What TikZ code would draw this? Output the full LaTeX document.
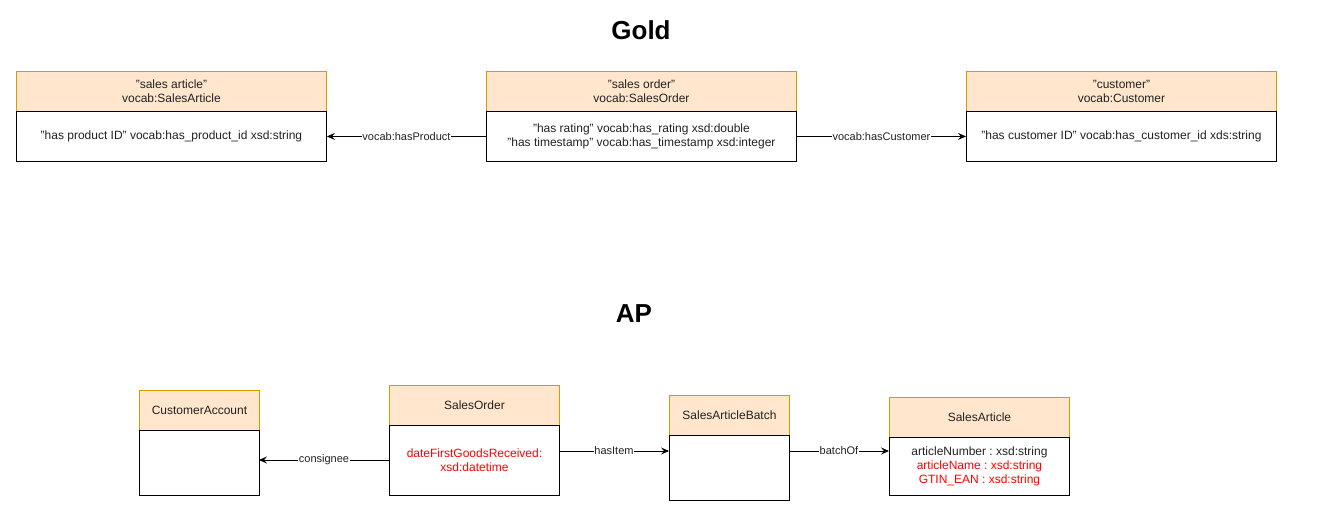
\documentclass[tikz,border=0pt]{standalone}
\usepackage{fontspec}
\setmainfont[Ligatures=NoCommon]{Liberation Sans}
\usetikzlibrary{arrows.meta}
\definecolor{hdrfill}{HTML}{FFE6CC}
\definecolor{hdrdraw}{HTML}{D79B00}
\definecolor{attrred}{HTML}{FF0000}
\definecolor{txt}{HTML}{222222}
\newcommand{\dq}{\char34\relax}
\frenchspacing
\begin{document}
\begin{tikzpicture}[x=1pt,y=-1pt,
  hdr/.style={draw=hdrdraw,fill=hdrfill,line width=0.9pt,minimum width=#1,minimum height=40pt,anchor=north west,inner sep=0pt,align=center,font=\fontsize{12}{14}\selectfont,text=txt},
  bodybox/.style={draw=black,fill=white,line width=0.9pt,minimum width=#1,anchor=north west,inner sep=0pt,align=center,font=\fontsize{12}{14}\selectfont,text=txt},
  conn/.style={draw=black,line width=0.9pt,-{Stealth[length=8pt,width=7pt,inset=3pt]}},
  lbl/.style={fill=white,inner sep=0.5pt,font=\fontsize{11}{13}\selectfont,text=txt},
  ttl/.style={font=\fontsize{26}{30}\selectfont\bfseries,text=black}]
\useasboundingbox (0,0) rectangle (1331,531);
\fill[white] (0,0) rectangle (1331,531);

\node[ttl] (gold) at (641,30) {Gold};
\node[ttl] (ap) at (634,314) {AP};

% Gold classes
\node[hdr=310pt] (saH) at (16,71) {\dq sales article\dq\\vocab:SalesArticle};
\node[bodybox=310pt,minimum height=50pt] (saB) at (16,111) {\dq has product ID\dq{} vocab:has\_product\_id xsd:string};
\node[hdr=310pt] (soH) at (486,71) {\dq sales order\dq\\vocab:SalesOrder};
\node[bodybox=310pt,minimum height=50pt] (soB) at (486,111) {\dq has rating\dq{} vocab:has\_rating xsd:double\\\dq has timestamp\dq{} vocab:has\_timestamp xsd:integer};
\node[hdr=310pt] (cuH) at (966,71) {\dq customer\dq\\vocab:Customer};
\node[bodybox=310pt,minimum height=50pt] (cuB) at (966,111) {\dq has customer ID\dq{} vocab:has\_customer\_id xds:string};

\draw[conn] (soB.west) -- node[lbl] {vocab:hasProduct} (saB.east);
\draw[conn] (soB.east) -- node[lbl] {vocab:hasCustomer} (cuB.west);

% AP classes
\node[hdr=120pt] (caH) at (139,390) {CustomerAccount};
\node[bodybox=120pt,minimum height=65pt] (caB) at (139,430) {};
\node[hdr=170pt] (apsoH) at (389,385) {SalesOrder};
\node[bodybox=170pt,minimum height=70pt,text=attrred] (apsoB) at (389,425) {dateFirstGoodsReceived:\\xsd:datetime};
\node[hdr=120pt] (sabH) at (669,395) {SalesArticleBatch};
\node[bodybox=120pt,minimum height=65pt] (sabB) at (669,435) {};
\node[hdr=180pt] (apsaH) at (889,397) {SalesArticle};
\node[bodybox=180pt,minimum height=58pt] (apsaB) at (889,437) {articleNumber : xsd:string\\\textcolor{attrred}{articleName : xsd:string}\\\textcolor{attrred}{GTIN\_EAN : xsd:string}};

\coordinate (consA) at (389,460);
\coordinate (consB) at (259,460);
\draw[conn] (consA) -- node[lbl] {consignee} (consB);
\coordinate (hiA) at (559,451);
\coordinate (hiB) at (669,451);
\draw[conn] (hiA) -- node[lbl] {hasItem} (hiB);
\coordinate (boA) at (789,451);
\coordinate (boB) at (889,451);
\draw[conn] (boA) -- node[lbl] {batchOf} (boB);
\end{tikzpicture}
\end{document}
